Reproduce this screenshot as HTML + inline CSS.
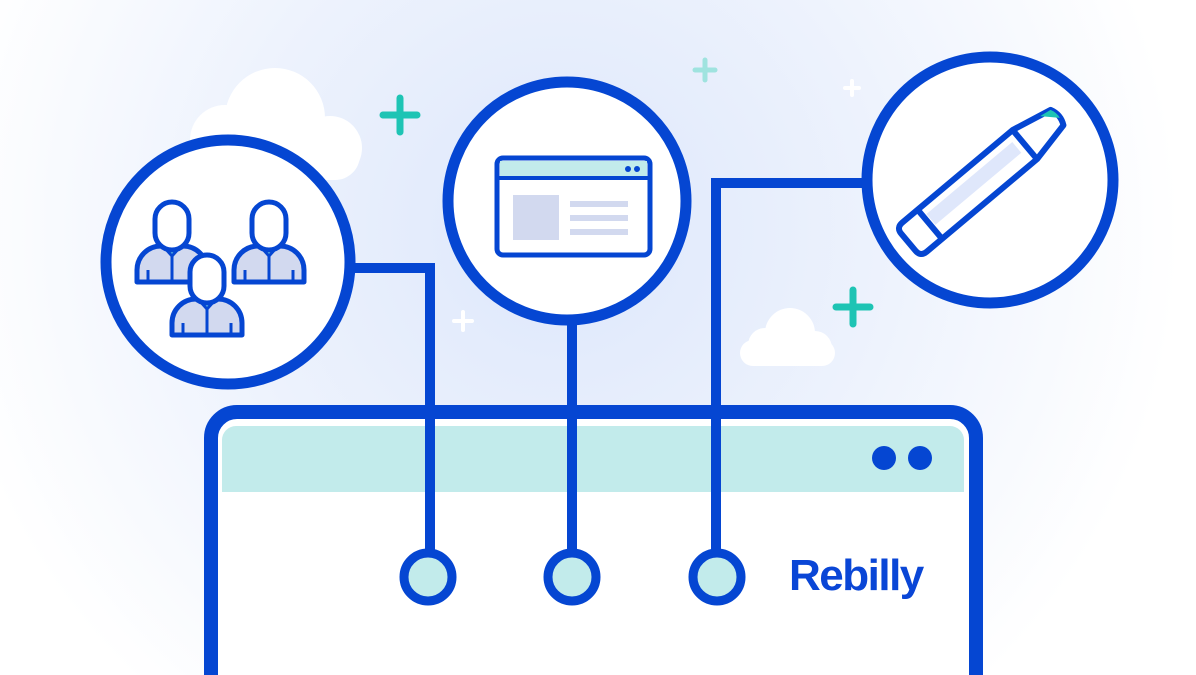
<!DOCTYPE html>
<html><head><meta charset="utf-8"><style>
html,body{margin:0;padding:0;width:1196px;height:675px;overflow:hidden;background:#fff}
svg{display:block}
</style></head><body>
<svg width="1196" height="675" viewBox="0 0 1196 675" xmlns="http://www.w3.org/2000/svg">
<defs>
<radialGradient id="bg" cx="560" cy="230" r="620" gradientUnits="userSpaceOnUse">
<stop offset="0" stop-color="#dde7fb"/><stop offset="0.55" stop-color="#eef3fd"/><stop offset="1" stop-color="#ffffff"/>
</radialGradient>
<clipPath id="fr"><rect width="1196" height="675"/></clipPath>
<g id="person">
<path d="M-35 30 v-12 a24 24 0 0 1 24 -24 h22 a24 24 0 0 1 24 24 v12 z" fill="#d2d9ef" stroke="#0546d2" stroke-width="5" stroke-linejoin="round"/>
<path d="M-9 -6 l9 10 l9 -10 z" fill="#7fe0e0" stroke="#0546d2" stroke-width="3"/>
<line x1="0" y1="4" x2="0" y2="30" stroke="#0546d2" stroke-width="3"/>
<line x1="-24" y1="18" x2="-24" y2="30" stroke="#0546d2" stroke-width="3"/>
<line x1="24" y1="18" x2="24" y2="30" stroke="#0546d2" stroke-width="3"/>
<rect x="-17" y="-50" width="34" height="48" rx="17" fill="#fff" stroke="#0546d2" stroke-width="5"/>
</g>
</defs>
<g clip-path="url(#fr)">
<rect width="1196" height="675" fill="url(#bg)"/>
<g fill="#fff">
<circle cx="275" cy="118" r="50"/><circle cx="225" cy="140" r="35"/><circle cx="330" cy="148" r="32"/><rect x="190" y="130" width="170" height="50" rx="25"/>
<circle cx="790" cy="333" r="25"/><circle cx="765" cy="345" r="17"/><circle cx="815" cy="348" r="17"/><rect x="740" y="340" width="95" height="26" rx="13"/>
</g>
<g stroke-linecap="round">
<g stroke="#1ec4b4" stroke-width="7"><line x1="400" y1="98" x2="400" y2="132"/><line x1="383" y1="115" x2="417" y2="115"/>
<line x1="853" y1="290" x2="853" y2="324"/><line x1="836" y1="307" x2="870" y2="307"/></g>
<g stroke="#9fe3df" stroke-width="5"><line x1="705" y1="60" x2="705" y2="80"/><line x1="695" y1="70" x2="715" y2="70"/></g>
<g stroke="#fff" stroke-width="4"><line x1="463" y1="312" x2="463" y2="330"/><line x1="454" y1="321" x2="472" y2="321"/>
<line x1="852" y1="81" x2="852" y2="95"/><line x1="845" y1="88" x2="859" y2="88"/></g>
</g>
<rect x="211" y="412" width="765" height="320" rx="26" fill="#fff" stroke="#0546d2" stroke-width="14"/>
<path d="M222 492 V440 a14 14 0 0 1 14 -14 H950 a14 14 0 0 1 14 14 V492 Z" fill="#c2ebeb"/>
<circle cx="884" cy="458" r="12" fill="#0546d2"/><circle cx="920" cy="458" r="12" fill="#0546d2"/>
<text x="789" y="590" font-family="Liberation Sans, sans-serif" font-weight="bold" font-size="44" fill="#0a46d6" letter-spacing="-1.5">Rebilly</text>
<g fill="none" stroke="#0546d2" stroke-width="10">
<path d="M350 268 H430 V555"/>
<path d="M572 325 V555"/>
<path d="M866 183 H716 V555"/>
</g>
<g fill="#c2ebeb" stroke="#0546d2" stroke-width="9">
<circle cx="428" cy="577" r="24"/><circle cx="572" cy="577" r="24"/><circle cx="717" cy="577" r="24"/>
</g>
<g fill="#fff" stroke="#0546d2" stroke-width="11">
<circle cx="228" cy="262" r="122"/>
<circle cx="567" cy="201" r="119"/>
<circle cx="990" cy="180" r="123"/>
</g>
<use href="#person" x="172" y="252"/>
<use href="#person" x="269" y="252"/>
<use href="#person" x="207" y="305"/>
<rect x="497" y="158" width="153" height="97" rx="6" fill="#fff" stroke="#0546d2" stroke-width="5"/>
<rect x="500" y="161" width="147" height="16" fill="#c2ebeb"/>
<line x1="497" y1="178" x2="650" y2="178" stroke="#0546d2" stroke-width="4"/>
<circle cx="628" cy="169" r="3" fill="#0546d2"/><circle cx="637" cy="169" r="3" fill="#0546d2"/>
<rect x="513" y="195" width="46" height="45" fill="#d2d9ef"/>
<g stroke="#d2d9ef" stroke-width="6"><line x1="570" y1="204" x2="628" y2="204"/><line x1="570" y1="218" x2="628" y2="218"/><line x1="570" y1="232" x2="628" y2="232"/></g>
<g transform="translate(985,178) rotate(-40)">
<rect x="-68" y="-10" width="112" height="14" fill="#dfe7fb"/>
<path d="M-92 -19 H52 L94 -10 Q99 0 94 10 L52 19 H-92 Q-100 19 -100 11 V-11 Q-100 -19 -92 -19 Z" fill="none" stroke="#0546d2" stroke-width="6" stroke-linejoin="round"/>
<path d="M82 -12 L94 -10 Q97 -4 96 2 Z" fill="#1ec4b4"/>
<line x1="52" y1="-19" x2="52" y2="19" stroke="#0546d2" stroke-width="6"/>
<line x1="-72" y1="-19" x2="-72" y2="19" stroke="#0546d2" stroke-width="6"/>
</g>
</g>
</svg>
</body></html>
